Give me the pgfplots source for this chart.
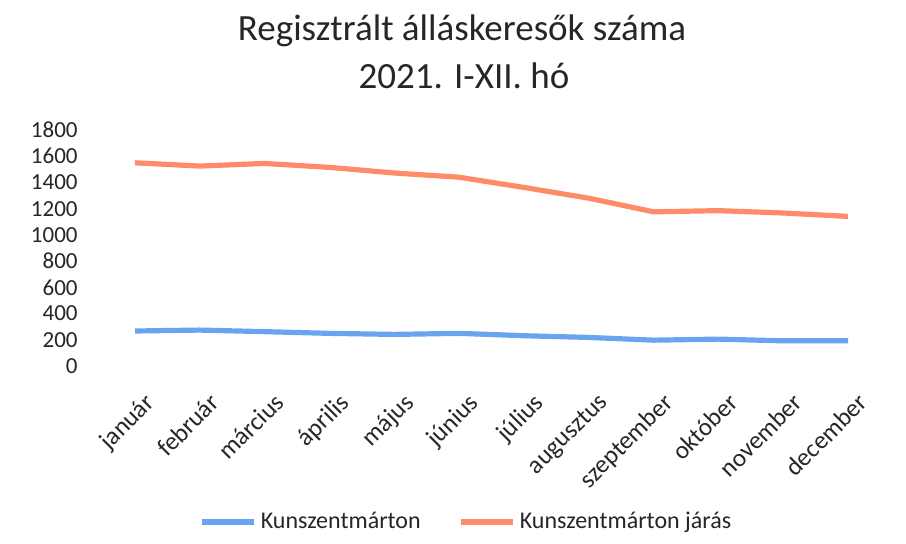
\documentclass[border=0pt]{standalone}
\usepackage{pgfplots}
\pgfplotsset{compat=1.18}
\usepackage{fontspec}
\setmainfont{Carlito}
\definecolor{cblue}{RGB}{105,165,238}
\definecolor{corange}{RGB}{255,140,105}
\begin{document}
\begin{tikzpicture}
\useasboundingbox (0,0) rectangle (453bp,-272bp);
\node[anchor=base,font=\fontsize{18.5bp}{20bp}\selectfont,text=black!85] at (231bp,-20bp) {Regisztrált álláskeresők száma};
\node[anchor=base,font=\fontsize{18.5bp}{20bp}\selectfont,text=black!85] at (232bp,-44bp) {2021. I-XII. hó};
\begin{axis}[
  at={(51.3bp,-183bp)}, anchor=south west,
  scale only axis, width=388.9bp, height=118bp,
  xmin=-0.5, xmax=11.5, ymin=0, ymax=1800,
  axis line style={draw=none},
  major tick length=0pt,
  ytick={0,200,...,1800},
  xtick={0,...,11},
  xticklabels={január,február,március,április,május,június,július,augusztus,szeptember,október,november,december},
  /pgf/number format/assume math mode=true,
  /pgf/number format/1000 sep={},
  tick label style={font=\fontsize{11.5bp}{13bp}\selectfont, text=black!85},
  yticklabel style={anchor=east, inner sep=0pt, xshift=-12.3bp},
  xticklabel style={anchor=north east, rotate=45, inner sep=0pt, yshift=-12bp, xshift=-6bp, font=\fontsize{12.6bp}{14bp}\selectfont},
  legend style={draw=none, at={(0.469,-0.661)}, anchor=center, legend columns=2,
    font=\fontsize{12bp}{14bp}\selectfont, text=black!85,
    /tikz/every even column/.append style={column sep=17bp}},
  legend image code/.code={\draw[#1, line width=2.6bp] (0bp,0bp) -- (26bp,0bp);},
]
\addplot[cblue, line width=2.6bp] coordinates {
(0,267) (1,274) (2,262) (3,249) (4,241) (5,249) (6,231) (7,218) (8,197) (9,205) (10,192) (11,192)};
\addlegendentry{Kunszentmárton}
\addplot[corange, line width=2.6bp] coordinates {
(0,1550) (1,1525) (2,1545) (3,1515) (4,1472) (5,1440) (6,1362) (7,1280) (8,1176) (9,1185) (10,1167) (11,1141)};
\addlegendentry{Kunszentmárton járás}
\end{axis}
\end{tikzpicture}
\end{document}
